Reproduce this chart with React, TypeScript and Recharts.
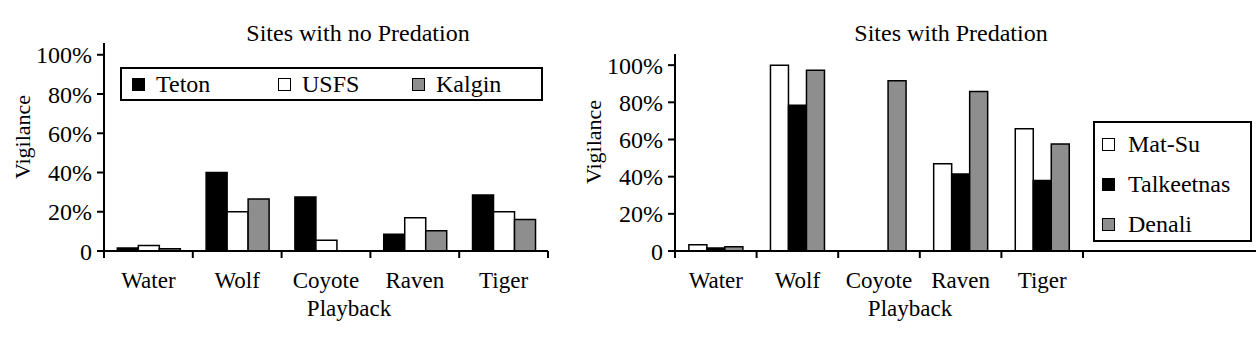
import React from 'react';
import { BarChart, Bar, XAxis, YAxis, Label } from 'recharts';

const playbacks = ['Water', 'Wolf', 'Coyote', 'Raven', 'Tiger'];

// Sites with no predation (% vigilance)
const teton = [1.5, 40, 27.5, 8.5, 28.6];
const usfs = [2.8, 20, 5.5, 17, 20];
const kalgin = [1.2, 26.5, 0, 10.3, 16];

// Sites with predation (% vigilance)
const matSu = [3.4, 100, 0, 47, 65.8];
const talkeetnas = [1.6, 78.4, 0, 41.4, 37.9];
const denali = [2.3, 97.3, 91.6, 85.8, 57.6];

const yTicks = [0, 20, 40, 60, 80, 100];

const FONT = "'Times New Roman', Times, Tinos, 'Liberation Serif', 'Nimbus Roman', 'DejaVu Serif', serif";
const GRAY = '#8e8e8e';

const noPredData = playbacks.map((name, i) => ({ name, Teton: teton[i], USFS: usfs[i], Kalgin: kalgin[i] }));
const predData = playbacks.map((name, i) => ({ name, 'Mat-Su': matSu[i], Talkeetnas: talkeetnas[i], Denali: denali[i] }));

const noPredSeries = [
  { key: 'Teton', fill: '#000' },
  { key: 'USFS', fill: '#fff' },
  { key: 'Kalgin', fill: GRAY },
];
const predSeries = [
  { key: 'Mat-Su', fill: '#fff' },
  { key: 'Talkeetnas', fill: '#000' },
  { key: 'Denali', fill: GRAY },
];

const pct = (v: number) => (v === 0 ? '0' : `${v}%`);

// tick marks sit on the category boundaries, label in the middle
const CategoryTick = (props: any) => {
  const { x, y, payload, index } = props;
  const half = payload.offset ?? 0;
  return (
    <g>
      {index === 0 && <line x1={x - half} x2={x - half} y1={y} y2={y + 7} stroke="#000" strokeWidth={2} />}
      <line x1={x + half} x2={x + half} y1={y} y2={y + 7} stroke="#000" strokeWidth={2} />
      <text x={x} y={y + 37} textAnchor="middle" fontFamily={FONT} fontSize={23} fill="#000">
        {payload.value}
      </text>
    </g>
  );
};

const VigilanceLabel = (props: any) => {
  const { viewBox, shiftX, centerY } = props;
  const x = viewBox.x + shiftX;
  return (
    <text x={x} y={centerY} transform={`rotate(-90 ${x} ${centerY})`} textAnchor="middle" fontFamily={FONT} fontSize={22} fill="#000">
      Vigilance
    </text>
  );
};

const PlaybackLabel = (props: any) => {
  const { viewBox, shiftX } = props;
  return (
    <text x={viewBox.x + shiftX} y={316} textAnchor="middle" fontFamily={FONT} fontSize={23} fill="#000">
      Playback
    </text>
  );
};

const Swatch = ({ fill }: { fill: string }) => (
  <span style={{ display: 'inline-block', width: 13, height: 13, background: fill, border: '1.5px solid #000', boxSizing: 'border-box' }} />
);

const Title = ({ text, center }: { text: string; center: number }) => (
  <div style={{ position: 'absolute', left: center - 150, width: 300, top: 21, textAlign: 'center', fontSize: 24, lineHeight: '24px' }}>
    {text}
  </div>
);

const axisLine = { stroke: '#000', strokeWidth: 2 };
const tickStyle = { fontFamily: FONT, fontSize: 24, fill: '#000' };

export default function App() {
  return (
    <div style={{ position: 'absolute', left: 0, top: 0, width: 1256, height: 348, background: '#fff', overflow: 'hidden', fontFamily: FONT }}>
      <Title text="Sites with no Predation" center={358} />
      <Title text="Sites with Predation" center={951} />

      <div style={{ position: 'absolute', left: 0, top: 0 }}>
        <BarChart width={560} height={348} data={noPredData} margin={{ top: 43, right: 12, left: 40, bottom: 27 }} barCategoryGap="15%" barGap={0}>
          <XAxis dataKey="name" height={70} interval={0} tickLine={false} tickSize={0} tickMargin={0} axisLine={axisLine} tick={<CategoryTick />}>
            <Label content={<PlaybackLabel shiftX={245} />} />
          </XAxis>
          <YAxis width={64} domain={[0, 106]} ticks={yTicks} tickFormatter={pct} axisLine={axisLine} tickLine={axisLine} tickSize={7} tickMargin={5} tick={tickStyle}>
            <Label content={<VigilanceLabel shiftX={-10} centerY={137} />} />
          </YAxis>
          {noPredSeries.map((s) => (
            <Bar key={s.key} dataKey={s.key} fill={s.fill} stroke="#000" strokeWidth={1.5} isAnimationActive={false} />
          ))}
        </BarChart>
      </div>

      <div style={{ position: 'absolute', left: 580, top: 0 }}>
        <BarChart width={676} height={348} data={predData} margin={{ top: 54, right: 0, left: 31, bottom: 27 }} barCategoryGap="17%" barGap={0}>
          <XAxis dataKey="name" height={70} interval={0} padding={{ left: 0, right: 173 }} tickLine={false} tickSize={0} tickMargin={0} axisLine={axisLine} tick={<CategoryTick />}>
            <Label content={<PlaybackLabel shiftX={235} />} />
          </XAxis>
          <YAxis width={64} domain={[0, 106]} ticks={yTicks} tickFormatter={pct} axisLine={axisLine} tickLine={axisLine} tickSize={7} tickMargin={5} tick={tickStyle}>
            <Label content={<VigilanceLabel shiftX={-10} centerY={142} />} />
          </YAxis>
          {predSeries.map((s) => (
            <Bar key={s.key} dataKey={s.key} fill={s.fill} stroke="#000" strokeWidth={1.5} isAnimationActive={false} />
          ))}
        </BarChart>
      </div>

      {/* legend, no predation */}
      <div style={{ position: 'absolute', left: 120, top: 67, width: 423, height: 34, border: '2px solid #000', boxSizing: 'border-box', background: '#fff', display: 'grid', gridTemplateColumns: '146px 134px auto', alignItems: 'center', paddingLeft: 10, fontSize: 24 }}>
        {noPredSeries.map((s) => (
          <div key={s.key} style={{ display: 'flex', alignItems: 'center', gap: 11 }}>
            <Swatch fill={s.fill} />
            <span>{s.key}</span>
          </div>
        ))}
      </div>

      {/* legend, predation */}
      <div style={{ position: 'absolute', left: 1093, top: 121, width: 159, height: 121, border: '2px solid #000', boxSizing: 'border-box', background: '#fff', paddingLeft: 7, paddingTop: 1, fontSize: 24 }}>
        {predSeries.map((s) => (
          <div key={s.key} style={{ display: 'flex', alignItems: 'center', gap: 13, height: 40 }}>
            <Swatch fill={s.fill} />
            <span>{s.key}</span>
          </div>
        ))}
      </div>
    </div>
  );
}
